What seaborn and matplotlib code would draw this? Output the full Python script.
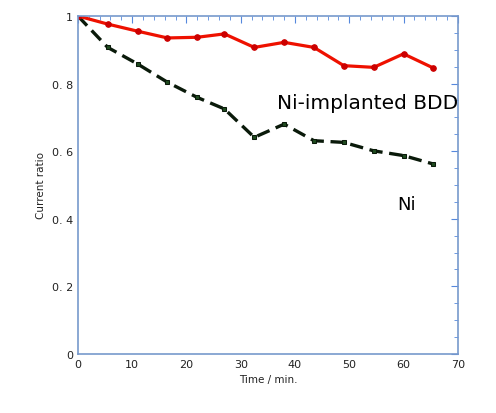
import numpy as np
import pandas as pd
import matplotlib
matplotlib.use('Agg')
import matplotlib.pyplot as plt
from matplotlib.ticker import MultipleLocator
import seaborn as sns

# Values
time_min = [0, 5.5, 11, 16.5, 22, 27, 32.5, 38, 43.5, 49, 54.5, 60, 65.5]
ni_bdd = [1.0, 0.976, 0.955, 0.935, 0.937, 0.947, 0.907, 0.922, 0.907, 0.853, 0.848, 0.888, 0.846]
ni = [1.0, 0.907, 0.858, 0.804, 0.759, 0.725, 0.641, 0.680, 0.631, 0.626, 0.601, 0.587, 0.562]

df = pd.DataFrame({"time": time_min, "Ni-implanted BDD": ni_bdd, "Ni": ni})

sns.set_style("white")
plt.rcParams['font.family'] = ['DejaVu Sans']

fig = plt.figure(figsize=(4.96, 4.14), dpi=100)
ax = fig.add_axes([0.157, 0.1425, 0.766, 0.8165])

sns.lineplot(data=df, x="time", y="Ni", ax=ax, color="#0a1a0a", linewidth=2.4,
             linestyle=(0, (4, 2)), marker="s", markersize=3.5,
             markerfacecolor="#1f4a1f", markeredgecolor="#0a1a0a")
sns.lineplot(data=df, x="time", y="Ni-implanted BDD", ax=ax, color="#ee1100",
             linewidth=2.3, marker="o", markersize=4,
             markerfacecolor="#cc0000", markeredgecolor="#cc0000")

ax.set_xlim(0, 70)
ax.set_ylim(0, 1)
ax.xaxis.set_major_locator(MultipleLocator(10))
ax.xaxis.set_minor_locator(MultipleLocator(2))
ax.yaxis.set_major_locator(MultipleLocator(0.2))
ax.yaxis.set_minor_locator(MultipleLocator(0.05))
ax.set_yticks([0, 0.2, 0.4, 0.6, 0.8, 1.0])
ax.set_yticklabels(["0", "0. 2", "0. 4", "0. 6", "0. 8", "1"])

ax.tick_params(which="both", direction="in", top=True, right=True,
               color="#5588dd", labelsize=8, labelcolor="#222222")
ax.tick_params(which="major", length=5)
ax.tick_params(which="minor", length=3)
for s in ax.spines.values():
    s.set_color("#7799cc")
    s.set_linewidth(1.2)

ax.set_xlabel("Time / min.", fontsize=7.5, color="#222222")
ax.set_ylabel("Current ratio", fontsize=7.5, color="#222222")

ax.text(36.6, 0.745, "Ni-implanted BDD", fontsize=14.5, color="black", va="center",
        clip_on=False)
ax.text(58.8, 0.444, "Ni", fontsize=13, color="black", va="center")

fig.savefig("out.png", dpi=100)
